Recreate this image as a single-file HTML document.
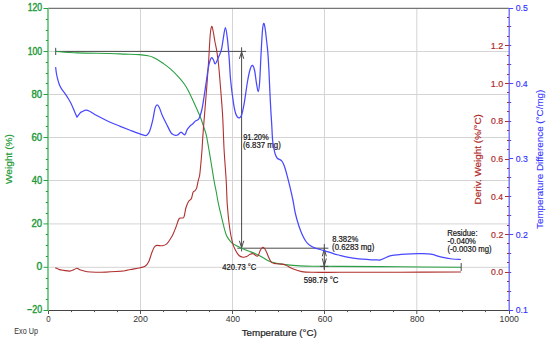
<!DOCTYPE html><html><head><meta charset="utf-8"><style>html,body{margin:0;padding:0;background:#fff;overflow:hidden;width:550px;height:342px;}svg{display:block;}text{font-family:"Liberation Sans",sans-serif;}</style></head><body>
<svg width="550" height="342" viewBox="0 0 550 342">
<path d="M48.0,267.30H509.0M48.0,223.90H509.0M48.0,180.50H509.0M48.0,137.50H509.0M48.0,94.50H509.0M48.0,51.50H509.0M140.50,8.5V310.5M232.50,8.5V310.5M324.50,8.5V310.5M416.80,8.5V310.5" stroke="#d4d4d4" stroke-width="1" fill="none"/>
<path d="M48.0,8.4H509.0" stroke="#767676" stroke-width="1.3"/>
<path d="M48.0,310.5H509.0" stroke="#444" stroke-width="1.2"/>
<path d="M48.50,310.5V314.0M71.50,310.5V312.1M94.50,310.5V312.1M117.50,310.5V312.1M140.50,310.5V314.0M163.50,310.5V312.1M186.50,310.5V312.1M209.50,310.5V312.1M232.50,310.5V314.0M255.50,310.5V312.1M278.50,310.5V312.1M301.50,310.5V312.1M324.50,310.5V314.0M347.50,310.5V312.1M370.50,310.5V312.1M393.50,310.5V312.1M416.80,310.5V314.0M439.50,310.5V312.1M462.50,310.5V312.1M485.50,310.5V312.1M509.50,310.5V314.0" stroke="#555" stroke-width="1"/>
<path d="M48.0,8.0V311.0" stroke="#66c47a" stroke-width="1.7"/>
<path d="M43.5,310.50H48.0M45.8,299.50H48.0M45.8,288.50H48.0M45.8,278.50H48.0M43.5,267.30H48.0M45.8,256.50H48.0M45.8,245.50H48.0M45.8,234.50H48.0M43.5,223.90H48.0M45.8,213.50H48.0M45.8,202.50H48.0M45.8,191.50H48.0M43.5,180.50H48.0M45.8,169.50H48.0M45.8,159.50H48.0M45.8,148.50H48.0M43.5,137.50H48.0M45.8,126.50H48.0M45.8,116.50H48.0M45.8,105.50H48.0M43.5,94.50H48.0M45.8,83.50H48.0M45.8,73.50H48.0M45.8,62.50H48.0M43.5,51.50H48.0M45.8,40.50H48.0M45.8,30.50H48.0M45.8,19.50H48.0M43.5,8.50H48.0" stroke="#2aa043" stroke-width="1"/>
<path d="M509.2,8.0V311.0" stroke="#6262ff" stroke-width="1.3"/>
<path d="M507.0,300.50H509.0M507.0,291.50H509.0M507.0,281.50H509.0M505.0,272.50H509.0M507.0,262.50H509.0M507.0,253.50H509.0M507.0,243.50H509.0M505.0,234.50H509.0M507.0,225.50H509.0M507.0,215.50H509.0M507.0,206.50H509.0M505.0,196.50H509.0M507.0,187.50H509.0M507.0,177.50H509.0M507.0,168.50H509.0M505.0,159.50H509.0M507.0,149.50H509.0M507.0,140.50H509.0M507.0,130.50H509.0M505.0,121.50H509.0M507.0,111.50H509.0M507.0,102.50H509.0M507.0,92.50H509.0M505.0,83.50H509.0M507.0,74.50H509.0M507.0,64.50H509.0M507.0,55.50H509.0M505.0,45.50H509.0M507.0,36.50H509.0M507.0,26.50H509.0M507.0,17.50H509.0" stroke="#b0302f" stroke-width="1"/>
<path d="M509.2,310.50H513.2M509.2,291.50H511.2M509.2,272.50H511.2M509.2,253.50H511.2M509.2,234.50H513.2M509.2,215.50H511.2M509.2,196.50H511.2M509.2,177.50H511.2M509.2,158.50H513.2M509.2,140.50H511.2M509.2,121.50H511.2M509.2,102.50H511.2M509.2,83.50H513.2M509.2,64.50H511.2M509.2,45.50H511.2M509.2,26.50H511.2M509.2,8.50H513.2" stroke="#4848ff" stroke-width="1"/>
<text x="27.16" y="312.99" font-size="10.0" font-weight="normal" fill="#1e9a3a" stroke="#1e9a3a" stroke-width="0.4" textLength="14.94" lengthAdjust="spacingAndGlyphs">−20</text>
<text x="36.51" y="270.24" font-size="10.0" font-weight="normal" fill="#1e9a3a" stroke="#1e9a3a" stroke-width="0.4" textLength="5.74" lengthAdjust="spacingAndGlyphs">0</text>
<text x="31.52" y="227.10" font-size="10.0" font-weight="normal" fill="#1e9a3a" stroke="#1e9a3a" stroke-width="0.4" textLength="10.64" lengthAdjust="spacingAndGlyphs">20</text>
<text x="31.77" y="183.96" font-size="10.0" font-weight="normal" fill="#1e9a3a" stroke="#1e9a3a" stroke-width="0.4" textLength="10.38" lengthAdjust="spacingAndGlyphs">40</text>
<text x="31.52" y="140.82" font-size="10.0" font-weight="normal" fill="#1e9a3a" stroke="#1e9a3a" stroke-width="0.4" textLength="10.64" lengthAdjust="spacingAndGlyphs">60</text>
<text x="31.52" y="97.67" font-size="10.0" font-weight="normal" fill="#1e9a3a" stroke="#1e9a3a" stroke-width="0.4" textLength="10.64" lengthAdjust="spacingAndGlyphs">80</text>
<text x="27.75" y="54.53" font-size="10.0" font-weight="normal" fill="#1e9a3a" stroke="#1e9a3a" stroke-width="0.4" textLength="14.43" lengthAdjust="spacingAndGlyphs">100</text>
<text x="27.75" y="11.39" font-size="10.0" font-weight="normal" fill="#1e9a3a" stroke="#1e9a3a" stroke-width="0.4" textLength="14.43" lengthAdjust="spacingAndGlyphs">120</text>
<text x="491.05" y="275.49" font-size="9.4" font-weight="normal" fill="#b02a2a" stroke="#b02a2a" stroke-width="0.2" textLength="12.14" lengthAdjust="spacingAndGlyphs">0.0</text>
<text x="491.05" y="237.74" font-size="9.4" font-weight="normal" fill="#b02a2a" stroke="#b02a2a" stroke-width="0.2" textLength="12.27" lengthAdjust="spacingAndGlyphs">0.2</text>
<text x="491.05" y="199.99" font-size="9.4" font-weight="normal" fill="#b02a2a" stroke="#b02a2a" stroke-width="0.2" textLength="12.02" lengthAdjust="spacingAndGlyphs">0.4</text>
<text x="491.05" y="162.24" font-size="9.4" font-weight="normal" fill="#b02a2a" stroke="#b02a2a" stroke-width="0.2" textLength="12.14" lengthAdjust="spacingAndGlyphs">0.6</text>
<text x="491.05" y="124.49" font-size="9.4" font-weight="normal" fill="#b02a2a" stroke="#b02a2a" stroke-width="0.2" textLength="12.14" lengthAdjust="spacingAndGlyphs">0.8</text>
<text x="490.68" y="86.74" font-size="9.4" font-weight="normal" fill="#b02a2a" stroke="#b02a2a" stroke-width="0.2" textLength="12.53" lengthAdjust="spacingAndGlyphs">1.0</text>
<text x="490.67" y="49.05" font-size="9.4" font-weight="normal" fill="#b02a2a" stroke="#b02a2a" stroke-width="0.2" textLength="12.66" lengthAdjust="spacingAndGlyphs">1.2</text>
<text x="515.65" y="313.24" font-size="9.4" font-weight="normal" fill="#3030ff" stroke="#3030ff" stroke-width="0.15" textLength="12.14" lengthAdjust="spacingAndGlyphs">0.1</text>
<text x="515.65" y="237.74" font-size="9.4" font-weight="normal" fill="#3030ff" stroke="#3030ff" stroke-width="0.15" textLength="12.27" lengthAdjust="spacingAndGlyphs">0.2</text>
<text x="515.65" y="162.24" font-size="9.4" font-weight="normal" fill="#3030ff" stroke="#3030ff" stroke-width="0.15" textLength="12.14" lengthAdjust="spacingAndGlyphs">0.3</text>
<text x="515.65" y="86.74" font-size="9.4" font-weight="normal" fill="#3030ff" stroke="#3030ff" stroke-width="0.15" textLength="12.02" lengthAdjust="spacingAndGlyphs">0.4</text>
<text x="515.65" y="11.24" font-size="9.4" font-weight="normal" fill="#3030ff" stroke="#3030ff" stroke-width="0.15" textLength="12.14" lengthAdjust="spacingAndGlyphs">0.5</text>
<text x="46.18" y="321.74" font-size="9.4" font-weight="normal" fill="#333" textLength="4.41" lengthAdjust="spacingAndGlyphs">0</text>
<text x="133.23" y="321.74" font-size="9.4" font-weight="normal" fill="#333" textLength="14.65" lengthAdjust="spacingAndGlyphs">200</text>
<text x="225.67" y="321.74" font-size="9.4" font-weight="normal" fill="#333" textLength="14.40" lengthAdjust="spacingAndGlyphs">400</text>
<text x="317.63" y="321.74" font-size="9.4" font-weight="normal" fill="#333" textLength="14.65" lengthAdjust="spacingAndGlyphs">600</text>
<text x="409.95" y="321.74" font-size="9.4" font-weight="normal" fill="#333" textLength="14.52" lengthAdjust="spacingAndGlyphs">800</text>
<text x="499.56" y="321.74" font-size="9.4" font-weight="normal" fill="#333" textLength="19.33" lengthAdjust="spacingAndGlyphs">1000</text>
<text x="241.65" y="336.46" font-size="9.9" font-weight="normal" fill="#222" stroke="#222" stroke-width="0.2" textLength="75.24" lengthAdjust="spacingAndGlyphs">Temperature (°C)</text>
<text transform="translate(11.90,184.04) rotate(-90)" font-size="9.3" font-weight="normal" fill="#1e9a3a" stroke="#1e9a3a" stroke-width="0.2" textLength="50.05" lengthAdjust="spacingAndGlyphs">Weight (%)</text>
<text transform="translate(480.60,204.41) rotate(-90)" font-size="9.1" font-weight="normal" fill="#b02a2a" stroke="#b02a2a" stroke-width="0.2" textLength="90.31" lengthAdjust="spacingAndGlyphs">Deriv. Weight (%/°C)</text>
<text transform="translate(543.16,228.96) rotate(-90)" font-size="9.6" font-weight="normal" fill="#3434ff" stroke="#3434ff" stroke-width="0.1" textLength="139.31" lengthAdjust="spacingAndGlyphs">Temperature Difference (°C/mg)</text>
<text x="14.25" y="333.85" font-size="8.4" font-weight="normal" fill="#333" textLength="23.64" lengthAdjust="spacingAndGlyphs">Exo Up</text>
<text x="243.16" y="140.18" font-size="8.4" font-weight="normal" fill="#151515" stroke="#151515" stroke-width="0.2" textLength="25.59" lengthAdjust="spacingAndGlyphs">91.20%</text>
<text x="243.03" y="148.32" font-size="8.4" font-weight="normal" fill="#151515" stroke="#151515" stroke-width="0.2" textLength="37.73" lengthAdjust="spacingAndGlyphs">(6.837 mg)</text>
<text x="332.16" y="241.88" font-size="8.4" font-weight="normal" fill="#151515" stroke="#151515" stroke-width="0.2" textLength="26.10" lengthAdjust="spacingAndGlyphs">8.382%</text>
<text x="332.03" y="250.22" font-size="8.4" font-weight="normal" fill="#151515" stroke="#151515" stroke-width="0.2" textLength="42.27" lengthAdjust="spacingAndGlyphs">(0.6283 mg)</text>
<text x="222.37" y="269.58" font-size="8.4" font-weight="normal" fill="#151515" stroke="#151515" stroke-width="0.2" textLength="33.94" lengthAdjust="spacingAndGlyphs">420.73 °C</text>
<text x="303.65" y="283.38" font-size="8.4" font-weight="normal" fill="#151515" stroke="#151515" stroke-width="0.2" textLength="34.87" lengthAdjust="spacingAndGlyphs">598.79 °C</text>
<text x="447.21" y="235.94" font-size="8.4" font-weight="normal" fill="#151515" stroke="#151515" stroke-width="0.2" textLength="30.33" lengthAdjust="spacingAndGlyphs">Residue:</text>
<text x="447.56" y="244.12" font-size="8.4" font-weight="normal" fill="#151515" stroke="#151515" stroke-width="0.2" textLength="28.34" lengthAdjust="spacingAndGlyphs">-0.040%</text>
<text x="447.44" y="252.23" font-size="8.4" font-weight="normal" fill="#151515" stroke="#151515" stroke-width="0.2" textLength="44.19" lengthAdjust="spacingAndGlyphs">(-0.0030 mg)</text>
<path d="M55.7,47.8V55M55.7,51.4H246M241.6,47.3V251.4M237.3,248.2H328.4M324.3,244.1V269.7" stroke="#4a4a4a" stroke-width="1" fill="none"/>
<path d="M239.4,58.8L241.6,51.8L243.8,58.8M239.4,240.8L241.6,247.8L243.8,240.8M322.3,256.3L324.3,248.8L326.3,256.3M322.3,258.5L324.3,266.0L326.3,258.5" stroke="#4a4a4a" stroke-width="1" fill="none"/>
<path d="M55.70,51.40 C59.30,51.65 68.25,52.55 77.30,52.90 C86.35,53.25 102.12,53.30 110.00,53.50 C117.88,53.70 119.73,53.92 124.60,54.10 C129.47,54.28 135.30,54.32 139.20,54.60 C143.10,54.88 145.70,55.35 148.00,55.80 C150.30,56.25 151.33,56.60 153.00,57.30 C154.67,58.00 156.32,59.00 158.00,60.00 C159.68,61.00 160.98,61.78 163.10,63.30 C165.22,64.82 168.18,66.88 170.70,69.10 C173.22,71.32 175.90,74.08 178.20,76.60 C180.50,79.12 182.75,81.73 184.50,84.20 C186.25,86.67 187.27,88.65 188.70,91.40 C190.13,94.15 191.63,97.52 193.10,100.70 C194.57,103.88 196.22,107.58 197.50,110.50 C198.78,113.42 199.70,115.27 200.80,118.20 C201.90,121.13 203.18,125.27 204.10,128.10 C205.02,130.93 205.48,131.55 206.30,135.20 C207.12,138.85 208.13,145.03 209.00,150.00 C209.87,154.97 210.67,159.92 211.50,165.00 C212.33,170.08 213.20,176.00 214.00,180.50 C214.80,185.00 215.55,188.07 216.30,192.00 C217.05,195.93 217.58,199.75 218.50,204.10 C219.42,208.45 220.73,213.67 221.80,218.10 C222.87,222.53 224.12,227.80 224.90,230.70 C225.68,233.60 225.87,234.10 226.50,235.50 C227.13,236.90 227.82,237.88 228.70,239.10 C229.58,240.32 230.92,241.92 231.80,242.80 C232.68,243.68 233.13,243.88 234.00,244.40 C234.87,244.92 235.75,245.25 237.00,245.90 C238.25,246.55 240.33,247.75 241.50,248.30 C242.67,248.85 242.85,248.75 244.00,249.20 C245.15,249.65 246.50,250.25 248.40,251.00 C250.30,251.75 253.07,252.67 255.40,253.70 C257.73,254.73 260.07,255.93 262.40,257.20 C264.73,258.47 267.05,260.27 269.40,261.30 C271.75,262.33 273.90,262.85 276.50,263.40 C279.10,263.95 281.08,264.18 285.00,264.60 C288.92,265.02 295.38,265.62 300.00,265.90 C304.62,266.18 306.03,266.22 312.70,266.30 C319.37,266.38 325.45,266.32 340.00,266.40 C354.55,266.48 379.83,266.67 400.00,266.80 C420.17,266.93 450.83,267.13 461.00,267.20" stroke="#2aa043" stroke-width="1.1" fill="none" stroke-linejoin="round"/>
<path d="M55.20,267.70 C55.92,268.02 58.05,269.15 59.50,269.60 C60.95,270.05 62.20,270.15 63.90,270.40 C65.60,270.65 68.00,271.23 69.70,271.10 C71.40,270.97 72.88,270.08 74.10,269.60 C75.32,269.12 75.92,268.12 77.00,268.20 C78.08,268.28 78.90,269.50 80.60,270.10 C82.30,270.70 84.65,271.43 87.20,271.80 C89.75,272.17 92.75,272.25 95.90,272.30 C99.05,272.35 102.70,272.23 106.10,272.10 C109.50,271.97 113.15,271.73 116.30,271.50 C119.45,271.27 122.63,271.03 125.00,270.70 C127.37,270.37 127.97,270.00 130.50,269.50 C133.03,269.00 137.72,268.28 140.20,267.70 C142.68,267.12 143.95,267.08 145.40,266.00 C146.85,264.92 147.87,263.32 148.90,261.20 C149.93,259.08 150.72,255.63 151.60,253.30 C152.48,250.97 153.33,248.52 154.20,247.20 C155.07,245.88 155.48,245.63 156.80,245.40 C158.12,245.17 160.48,246.00 162.10,245.80 C163.72,245.60 165.13,245.33 166.50,244.20 C167.87,243.07 169.23,240.60 170.30,239.00 C171.37,237.40 171.98,236.52 172.90,234.60 C173.82,232.68 174.78,230.12 175.80,227.50 C176.82,224.88 178.03,220.48 179.00,218.90 C179.97,217.32 180.78,218.30 181.60,218.00 C182.42,217.70 183.17,218.85 183.90,217.10 C184.63,215.35 185.20,210.13 186.00,207.50 C186.80,204.87 187.82,202.77 188.70,201.30 C189.58,199.83 190.58,200.17 191.30,198.70 C192.02,197.23 192.42,193.82 193.00,192.50 C193.58,191.18 194.20,191.52 194.80,190.80 C195.40,190.08 196.02,189.95 196.60,188.20 C197.18,186.45 197.78,182.50 198.30,180.30 C198.82,178.10 199.25,178.05 199.70,175.00 C200.15,171.95 200.62,166.17 201.00,162.00 C201.38,157.83 201.78,152.83 202.00,150.00 C202.22,147.17 202.07,148.57 202.30,145.00 C202.53,141.43 202.90,135.23 203.40,128.60 C203.90,121.97 204.70,112.63 205.30,105.20 C205.90,97.77 206.43,91.53 207.00,84.00 C207.57,76.47 208.17,68.17 208.70,60.00 C209.23,51.83 209.70,40.60 210.20,35.00 C210.70,29.40 211.18,26.90 211.70,26.40 C212.22,25.90 212.78,29.57 213.30,32.00 C213.82,34.43 214.20,37.70 214.80,41.00 C215.40,44.30 216.25,47.63 216.90,51.80 C217.55,55.97 218.02,59.07 218.70,66.00 C219.38,72.93 220.33,84.92 221.00,93.40 C221.67,101.88 222.18,107.47 222.70,116.90 C223.22,126.33 223.52,139.40 224.10,150.00 C224.68,160.60 225.67,171.33 226.20,180.50 C226.73,189.67 226.73,197.17 227.30,205.00 C227.87,212.83 228.72,221.13 229.60,227.50 C230.48,233.87 231.62,239.42 232.60,243.20 C233.58,246.98 234.43,248.15 235.50,250.20 C236.57,252.25 237.73,254.33 239.00,255.50 C240.27,256.67 241.83,257.02 243.10,257.20 C244.37,257.38 245.43,257.08 246.60,256.60 C247.77,256.12 249.02,254.78 250.10,254.30 C251.18,253.82 252.02,253.40 253.10,253.70 C254.18,254.00 255.73,255.80 256.60,256.10 C257.47,256.40 257.72,256.38 258.30,255.50 C258.88,254.62 259.45,252.12 260.10,250.80 C260.75,249.48 261.52,248.05 262.20,247.60 C262.88,247.15 263.48,247.37 264.20,248.10 C264.92,248.83 265.72,250.38 266.50,252.00 C267.28,253.62 268.12,256.12 268.90,257.80 C269.68,259.48 270.33,261.17 271.20,262.10 C272.07,263.03 272.63,263.08 274.10,263.40 C275.57,263.72 278.10,263.73 280.00,264.00 C281.90,264.27 283.38,264.20 285.50,265.00 C287.62,265.80 289.98,267.70 292.70,268.80 C295.42,269.90 298.47,271.02 301.80,271.60 C305.13,272.18 306.33,272.18 312.70,272.30 C319.07,272.42 325.45,272.32 340.00,272.30 C354.55,272.28 379.83,272.25 400.00,272.20 C420.17,272.15 450.83,272.03 461.00,272.00" stroke="#b0302f" stroke-width="1.1" fill="none" stroke-linejoin="round"/>
<path d="M55.60,67.20 C55.77,68.42 56.17,72.20 56.60,74.50 C57.03,76.80 57.72,79.23 58.20,81.00 C58.68,82.77 58.92,83.73 59.50,85.10 C60.08,86.47 60.75,87.73 61.70,89.20 C62.65,90.67 64.03,92.23 65.20,93.90 C66.37,95.57 67.68,97.52 68.70,99.20 C69.72,100.88 70.33,101.95 71.30,104.00 C72.27,106.05 73.55,109.30 74.50,111.50 C75.45,113.70 77.00,117.20 77.00,117.20 C77.00,117.20 78.73,114.68 79.50,113.80 C80.27,112.92 80.27,112.48 81.60,111.90 C82.93,111.32 84.97,109.70 87.50,110.30 C90.03,110.90 93.30,113.63 96.80,115.50 C100.30,117.37 104.60,119.70 108.50,121.50 C112.40,123.30 116.70,124.88 120.20,126.30 C123.70,127.72 126.95,128.98 129.50,130.00 C132.05,131.02 133.03,131.52 135.50,132.40 C137.97,133.28 142.40,134.85 144.30,135.30 C146.20,135.75 146.02,135.78 146.90,135.10 C147.78,134.42 148.62,133.75 149.60,131.20 C150.58,128.65 151.90,123.60 152.80,119.80 C153.70,116.00 154.28,110.88 155.00,108.40 C155.72,105.92 156.38,105.05 157.10,104.90 C157.82,104.75 158.43,105.75 159.30,107.50 C160.17,109.25 161.08,112.62 162.30,115.40 C163.52,118.18 165.22,121.42 166.60,124.20 C167.98,126.98 169.53,130.38 170.60,132.10 C171.67,133.82 172.18,133.97 173.00,134.50 C173.82,135.03 174.73,135.22 175.50,135.30 C176.27,135.38 176.73,135.50 177.60,135.00 C178.47,134.50 179.88,132.60 180.70,132.30 C181.52,132.00 181.90,132.78 182.50,133.20 C183.10,133.62 183.78,134.73 184.30,134.80 C184.82,134.87 185.22,134.27 185.60,133.60 C185.98,132.93 186.23,131.63 186.60,130.80 C186.97,129.97 187.30,129.32 187.80,128.60 C188.30,127.88 189.10,127.05 189.60,126.50 C190.10,125.95 190.28,125.72 190.80,125.30 C191.32,124.88 192.13,124.50 192.70,124.00 C193.27,123.50 193.73,122.80 194.20,122.30 C194.67,121.80 195.02,121.35 195.50,121.00 C195.98,120.65 196.62,120.48 197.10,120.20 C197.58,119.92 197.97,119.83 198.40,119.30 C198.83,118.77 199.12,118.63 199.70,117.00 C200.28,115.37 201.17,112.92 201.90,109.50 C202.63,106.08 203.37,101.17 204.10,96.50 C204.83,91.83 205.60,86.25 206.30,81.50 C207.00,76.75 207.70,71.42 208.30,68.00 C208.90,64.58 209.33,62.73 209.90,61.00 C210.47,59.27 211.10,57.77 211.70,57.60 C212.30,57.43 212.92,58.97 213.50,60.00 C214.08,61.03 214.48,63.98 215.20,63.80 C215.92,63.62 216.78,61.18 217.80,58.90 C218.82,56.62 220.42,53.32 221.30,50.10 C222.18,46.88 222.42,43.35 223.10,39.60 C223.78,35.85 224.67,27.60 225.40,27.60 C226.13,27.60 226.87,34.38 227.50,39.60 C228.13,44.82 228.68,52.17 229.20,58.90 C229.72,65.63 229.87,72.50 230.60,80.00 C231.33,87.50 232.78,98.40 233.60,103.90 C234.42,109.40 234.92,110.90 235.50,113.00 C236.08,115.10 236.48,115.68 237.10,116.50 C237.72,117.32 238.47,118.10 239.20,117.90 C239.93,117.70 240.68,117.63 241.50,115.30 C242.32,112.97 243.08,109.62 244.10,103.90 C245.12,98.18 246.57,86.85 247.60,81.00 C248.63,75.15 249.48,71.42 250.30,68.80 C251.12,66.18 251.78,65.02 252.50,65.30 C253.22,65.58 253.95,67.58 254.60,70.50 C255.25,73.42 255.80,79.28 256.40,82.80 C257.00,86.32 257.67,91.60 258.20,91.60 C258.73,91.60 259.13,88.90 259.60,82.80 C260.07,76.70 260.52,63.80 261.00,55.00 C261.48,46.20 262.03,35.27 262.50,30.00 C262.97,24.73 263.35,23.57 263.80,23.40 C264.25,23.23 264.75,26.23 265.20,29.00 C265.65,31.77 266.07,36.17 266.50,40.00 C266.93,43.83 267.40,47.00 267.80,52.00 C268.20,57.00 268.57,63.67 268.90,70.00 C269.23,76.33 269.48,83.33 269.80,90.00 C270.12,96.67 270.48,104.33 270.80,110.00 C271.12,115.67 271.40,119.00 271.70,124.00 C272.00,129.00 272.25,136.00 272.60,140.00 C272.95,144.00 273.37,145.67 273.80,148.00 C274.23,150.33 274.62,152.30 275.20,154.00 C275.78,155.70 276.22,157.07 277.30,158.20 C278.38,159.33 280.53,159.50 281.70,160.80 C282.87,162.10 283.43,163.67 284.30,166.00 C285.17,168.33 286.02,171.57 286.90,174.80 C287.78,178.03 288.60,181.20 289.60,185.40 C290.60,189.60 291.92,195.23 292.90,200.00 C293.88,204.77 294.48,209.62 295.50,214.00 C296.52,218.38 297.83,222.75 299.00,226.30 C300.17,229.85 301.33,232.77 302.50,235.30 C303.67,237.83 304.80,239.83 306.00,241.50 C307.20,243.17 308.17,244.20 309.70,245.30 C311.23,246.40 312.78,247.22 315.20,248.10 C317.62,248.98 321.18,249.68 324.20,250.60 C327.22,251.52 330.67,252.80 333.30,253.60 C335.93,254.40 337.67,254.80 340.00,255.40 C342.33,256.00 344.15,256.62 347.30,257.20 C350.45,257.78 355.27,258.50 358.90,258.90 C362.53,259.30 366.42,259.43 369.10,259.60 C371.78,259.77 373.22,259.82 375.00,259.90 C376.78,259.98 379.80,260.10 379.80,260.10 C379.80,260.10 381.75,259.33 383.60,258.60 C385.45,257.87 387.98,256.40 390.90,255.70 C393.82,255.00 397.70,254.72 401.10,254.40 C404.50,254.08 408.07,253.92 411.30,253.80 C414.53,253.68 417.22,253.63 420.50,253.70 C423.78,253.77 427.48,253.62 431.00,254.20 C434.52,254.78 438.08,256.40 441.60,257.20 C445.12,258.00 448.88,258.62 452.10,259.00 C455.32,259.38 459.43,259.42 460.90,259.50" stroke="#4848ff" stroke-width="1.25" fill="none" stroke-linejoin="round"/>
<path d="M320.2,266.4H328.4M461.2,263V271M324.3,262V269.7" stroke="#4a4a4a" stroke-width="1" fill="none"/>
</svg></body></html>
